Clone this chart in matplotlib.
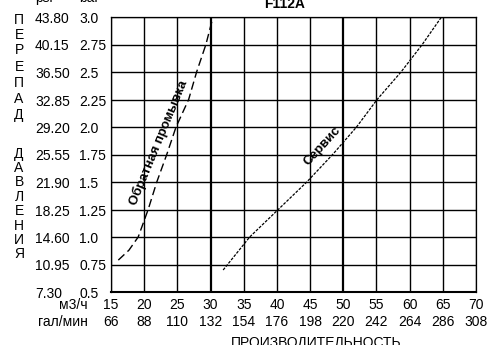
import matplotlib
matplotlib.use('Agg')
import matplotlib.pyplot as plt
import matplotlib.transforms as mtransforms

plt.rcParams['font.family'] = ['Liberation Sans', 'DejaVu Sans']

# Данные графика
flow_m3h = [15, 20, 25, 30, 35, 40, 45, 50, 55, 60, 65, 70]
flow_gpm = [66, 88, 110, 132, 154, 176, 198, 220, 242, 264, 286, 308]
dp_bar = [0.5, 0.75, 1.0, 1.25, 1.5, 1.75, 2.0, 2.25, 2.5, 2.75, 3.0]
dp_bar_labels = ['0.5', '0.75', '1.0', '1.25', '1.5', '1.75', '2.0', '2.25', '2.5', '2.75', '3.0']
dp_psi_labels = ['7.30', '10.95', '14.60', '18.25', '21.90', '25.55', '29.20',
                 '32.85', '36.50', '40.15', '43.80']

# Обратная промывка
backwash_x = [16.1, 17.7, 19.1, 20.6, 21.9, 23.4, 24.8, 26.7, 27.9, 29.3, 30.2]
backwash_y = [0.79, 0.88, 1.0, 1.25, 1.5, 1.75, 2.0, 2.25, 2.5, 2.75, 2.96]

# Сервис
service_x = [31.9, 35.9, 40.2, 44.5, 48.4, 52.0, 55.1, 58.7, 61.9, 64.8]
service_y = [0.70, 1.0, 1.25, 1.5, 1.75, 2.0, 2.25, 2.5, 2.75, 3.0]

W, H = 498, 345
fig = plt.figure(figsize=(W / 100, H / 100), dpi=100)
ax = fig.add_axes([111 / W, 1 - 292 / H, 365 / W, 275 / H])

ax.set_xlim(15, 70)
ax.set_ylim(0.5, 3.0)
ax.set_xticks([])
ax.set_yticks([])

# сетка
thin = [x for x in flow_m3h if x not in (30, 50)]
ax.vlines(thin, 0.5, 3.0, colors='#000000', linewidth=1.0, zorder=2)
ax.vlines([30, 50], 0.5, 3.0, colors='#000000', linewidth=1.6, zorder=2)
ax.hlines(dp_bar, 15, 70, colors='#000000', linewidth=1.0, zorder=2)
for side in ['left', 'right', 'top']:
    ax.spines[side].set_linewidth(0.9)
ax.spines['bottom'].set_linewidth(1.5)

ax.plot(backwash_x, backwash_y, color='black', linewidth=1.0, dashes=(6, 3), zorder=3)
ax.plot(service_x, service_y, color='black', linewidth=0.9, dashes=(2.3, 1.1), zorder=3)

ax.text(22.2, 1.86, 'Обратная промывка', rotation=67.5, ha='center', va='center',
        fontsize=9.5, fontweight='bold', rotation_mode='anchor', zorder=4)
ax.text(46.9, 1.83, 'Сервис', rotation=47.5, ha='center', va='center',
        fontsize=9.5, fontweight='bold', rotation_mode='anchor', zorder=4)

# подписи осей
ty = mtransforms.blended_transform_factory(fig.transFigure, ax.transData)
ty = mtransforms.offset_copy(ty, fig=fig, y=-2, units='dots')
for v, p, b in zip(dp_bar, dp_psi_labels, dp_bar_labels):
    fig.text(35 / W, v, p, transform=ty, ha='left', va='center', fontsize=10)
    fig.text(79 / W, v, b, transform=ty, ha='left', va='center', fontsize=10)

tx = mtransforms.blended_transform_factory(ax.transData, fig.transFigure)
for x, g in zip(flow_m3h, flow_gpm):
    fig.text(x, 1 - 305 / H, str(x), transform=tx, ha='center', va='center', fontsize=10)
    fig.text(x, 1 - 322 / H, str(g), transform=tx, ha='center', va='center', fontsize=10)

fig.text(88 / W, 1 - 305 / H, 'м3/ч', ha='right', va='center', fontsize=10)
fig.text(88 / W, 1 - 322 / H, 'гал/мин', ha='right', va='center', fontsize=10)
fig.text(316 / W, 1 - 336 / H, 'ПРОИЗВОДИТЕЛЬНОСТЬ', ha='center', va='top', fontsize=10)

fig.text(285 / W, 1 - 8 / H, 'F112A', ha='center', va='baseline', fontsize=10,
         fontweight='bold')
fig.text(35 / W, 1 - 2 / H, 'psi', ha='left', va='baseline', fontsize=10)
fig.text(79 / W, 1 - 2 / H, 'bar', ha='left', va='baseline', fontsize=10)

# вертикальная надпись
letters = list('ПЕРЕПАД') + list('ДАВЛЕНИЯ')
letter_y = [20, 35, 50, 67, 83, 99, 115, 154, 168, 182, 197, 211, 226, 240, 254]
for ch, yp in zip(letters, letter_y):
    fig.text(19 / W, 1 - yp / H, ch, ha='center', va='center', fontsize=10)

fig.savefig('out.png', dpi=100)
